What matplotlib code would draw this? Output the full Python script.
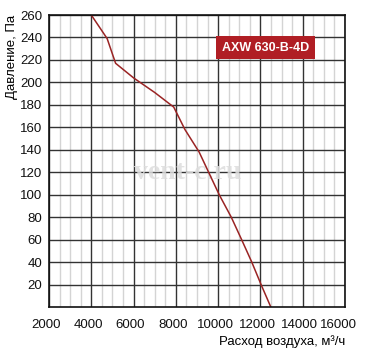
import matplotlib as mpl
mpl.use('Agg')
import matplotlib.pyplot as plt
import matplotlib.transforms as mtransforms
import numpy as np

# fan curve
flow = [4000, 4750, 5150, 6000, 7000, 7900, 8430, 9100, 10050, 10620, 11110, 11590, 12030, 12490]
pressure = [260, 239, 217, 204, 191, 178, 158, 138, 100, 80, 60, 40, 20, 0]

x_ticks = [2000, 4000, 6000, 8000, 10000, 12000, 14000, 16000]
y_ticks = [20, 40, 60, 80, 100, 120, 140, 160, 180, 200, 220, 240, 260]
model = "AXW 630-B-4D"

plt.rcParams['font.family'] = ['Liberation Sans', 'DejaVu Sans']

fig = plt.figure(figsize=(3.67, 3.5), dpi=100)
ax = fig.add_axes([49 / 367, 1 - 307 / 350, 296 / 367, 292 / 350])

# grid: light minor verticals every 500, dark majors
for xv in np.arange(2000, 16001, 500):
    if xv % 2000:
        ax.axvline(xv, color='#d4d4d4', lw=1.0, zorder=1)
    else:
        ax.axvline(xv, color='#333333', lw=1.0, zorder=2)
for yv in y_ticks:
    ax.axhline(yv, color='#333333', lw=1.0, zorder=2)

# faint watermark lying over the grid
ax.text(0.47, 0.46, "vent-c.ru", transform=ax.transAxes, ha='center', va='center',
        fontsize=20, fontweight='bold', family='Liberation Serif', color='#dddddd',
        alpha=0.85, zorder=2.5)

ax.plot(flow, pressure, color='#9a2424', lw=1.1, zorder=3)

ax.set_xlim(2000, 16000)
ax.set_ylim(0, 260)
ax.set_xticks(x_ticks)
ax.set_yticks(y_ticks)
ax.tick_params(length=0, labelsize=9.5, colors='#111111')
ax.tick_params(axis='x', pad=9)
ax.tick_params(axis='y', pad=5)
shift = mtransforms.ScaledTranslation(-3 / 100, 0, fig.dpi_scale_trans)
for lab in ax.get_xticklabels():
    lab.set_transform(lab.get_transform() + shift)
ax.get_xticklabels()[-1].set_transform(ax.get_xticklabels()[-1].get_transform()
                                        + mtransforms.ScaledTranslation(-4 / 100, 0, fig.dpi_scale_trans))
for sp in ax.spines.values():
    sp.set_color('#111111')
    sp.set_linewidth(1.2)
    sp.set_zorder(4)

ax.text(0.731, 0.888, model, transform=ax.transAxes, ha='center', va='center',
        color='white', fontsize=9, fontweight='bold', zorder=5,
        bbox=dict(boxstyle='square,pad=0.45', facecolor='#b01e24', edgecolor='none'))

fig.text(12 / 367, 1 - 15 / 350, "Давление, Па", rotation=90, ha='center', va='top', fontsize=9.5)
fig.text(345 / 367, 1 - 342 / 350, "Расход воздуха, м³/ч", ha='right', va='center', fontsize=9.5)

fig.savefig("out.png", dpi=100)
